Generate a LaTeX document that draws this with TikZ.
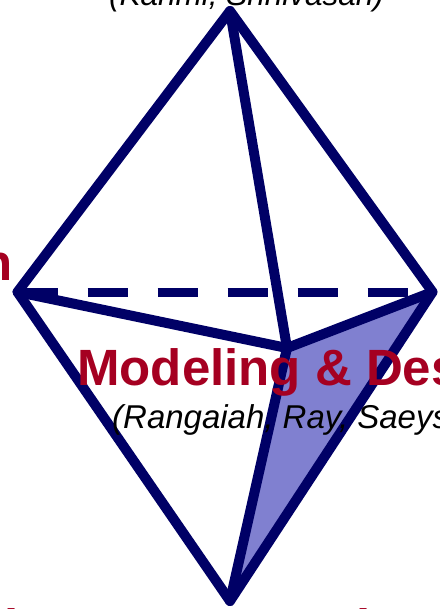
\documentclass[tikz,border=0pt]{standalone}
\usepackage{fontspec}
\setmainfont{Liberation Sans}
\definecolor{navyline}{RGB}{0,0,102}
\definecolor{facefill}{RGB}{128,128,208}
\definecolor{labelred}{RGB}{165,0,33}

\begin{document}
\begin{tikzpicture}[x=1pt, y=-1pt, line join=round, line cap=round]
        % Khung hình (cắt theo ảnh)
        \useasboundingbox (0,0) rectangle (439,609);
        \clip (0,0) rectangle (439,609);

        % Các đỉnh của song chóp
        \coordinate (top) at (230,11);
        \coordinate (left) at (17.5,292);
        \coordinate (right) at (432.5,292);
        \coordinate (front) at (287,348);
        \coordinate (bottom) at (230,601);

        % Mặt tô màu phía trước
        \fill[facefill] (front) -- (right) -- (bottom) -- cycle;

        % Cạnh khuất (nét đứt)
        \draw[navyline, line width=9pt, line cap=butt, dash pattern=on 40pt off 30pt] (left) -- (right);

        % Các cạnh thấy được
        \draw[navyline, line width=10pt] (left) -- (top) -- (right) -- (bottom) -- cycle;
        \draw[navyline, line width=10pt] (top) -- (front);
        \draw[navyline, line width=10pt] (left) -- (front) -- (right);
        \draw[navyline, line width=10pt] (front) -- (bottom);

        % Nhãn các đỉnh
        \node[anchor=base west, inner sep=0pt, font=\fontsize{31.5}{31.5}\selectfont\itshape] (topnames) at (109,6) {(Karimi, Srinivasan)};
        \node[anchor=base east, inner sep=0pt, text=labelred, font=\fontsize{51}{51}\selectfont\bfseries] (lefttitle) at (12.5,280) {Optimization};
        \node[anchor=base west, inner sep=0pt, text=labelred, font=\fontsize{51}{51}\selectfont\bfseries] (fronttitle) at (77,385) {Modeling \& Design};
        \node[anchor=base west, inner sep=0pt, font=\fontsize{33}{33}\selectfont\itshape] (frontnames) at (112,428) {(Rangaiah, Ray, Saeys)};
        \node[anchor=base east, inner sep=0pt, text=labelred, font=\fontsize{51}{51}\selectfont\bfseries] (bottomleft) at (18.5,645.5) {Industrial};
        \node[anchor=base west, inner sep=0pt, text=labelred, font=\fontsize{51}{51}\selectfont\bfseries] (bottomtitle) at (267,645.5) {Tools};
    \end{tikzpicture}
\end{document}
